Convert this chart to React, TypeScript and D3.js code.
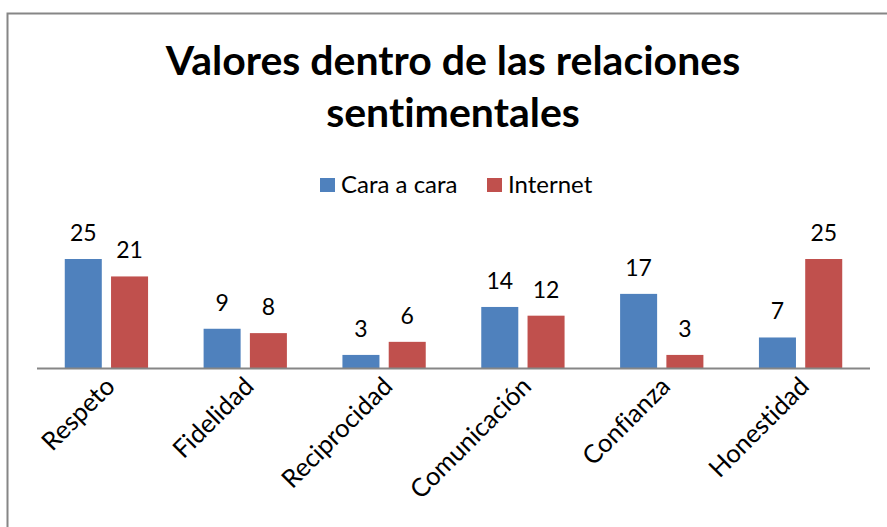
import * as d3 from 'd3';

const categories = ['Respeto', 'Fidelidad', 'Reciprocidad', 'Comunicación', 'Confianza', 'Honestidad'];
const seriesNames = ['Cara a cara', 'Internet'];
const caraACara = [25, 9, 3, 14, 17, 7];
const internet = [21, 8, 6, 12, 3, 25];
const colors = ['#4f81bd', '#c0504d'];

const width = 887;
const height = 527;
const font = 'Lato, "Open Sans", sans-serif';

const plot = { left: 37, right: 870, top: 150, bottom: 368 };

export default function App() {
  const series = [caraACara, internet];

  const x = d3.scaleBand().domain(categories).range([plot.left, plot.right]).paddingInner(0.4).paddingOuter(0.2);
  const inner = d3.scaleBand().domain(seriesNames).range([0, x.bandwidth()]).paddingInner(0.2);
  const y = d3.scaleLinear().domain([0, 25]).range([plot.bottom, plot.bottom - 109]);
  const legendX = [320, 487];

  return (
    <svg
      width={width}
      height={height}
      style={{ position: 'absolute', left: 0, top: 0, background: '#fff', fontVariantLigatures: 'none' }}
    >
      <rect x={0} y={0} width={width} height={height} fill="#fff" />
      <path d={`M7.5,${height} V13.5 H${width}`} fill="none" stroke="#868686" strokeWidth={2} />

      <text x={453} y={75} textAnchor="middle" fontFamily={font} fontWeight="bold" fontSize={41}>
        Valores dentro de las relaciones
      </text>
      <text x={453} y={127} textAnchor="middle" fontFamily={font} fontWeight="bold" fontSize={41}>
        sentimentales
      </text>

      {seriesNames.map((s, i) => (
        <g key={s} transform={`translate(${legendX[i]},0)`}>
          <rect x={0} y={178} width={15} height={14} fill={colors[i]} />
          <text x={21} y={193} fontFamily={font} fontSize={24}>{s}</text>
        </g>
      ))}

      {categories.map((c, ci) => (
        <g key={c}>
          {series.map((vals, si) => {
            const bx = (x(c) as number) + (inner(seriesNames[si]) as number);
            return (
              <g key={si}>
                <rect x={bx} y={y(vals[ci])} width={inner.bandwidth()} height={plot.bottom - y(vals[ci])} fill={colors[si]} />
                <text x={bx + inner.bandwidth() / 2} y={y(vals[ci]) - 18} textAnchor="middle" fontFamily={font} fontSize={23}>
                  {vals[ci]}
                </text>
              </g>
            );
          })}
          <text
            transform={`translate(${(x(c) as number) + x.bandwidth() / 2 + 10},${plot.bottom + 20}) rotate(-45)`}
            textAnchor="end"
            fontFamily={font}
            fontSize={25.5}
          >
            {c}
          </text>
        </g>
      ))}

      <line x1={plot.left} x2={plot.right} y1={plot.bottom + 0.5} y2={plot.bottom + 0.5} stroke="#868686" strokeWidth={2} />
    </svg>
  );
}
